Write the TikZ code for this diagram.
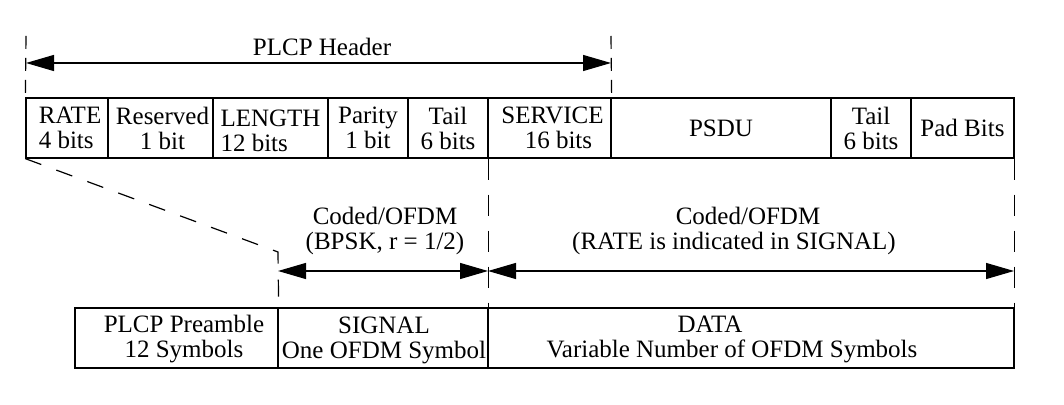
\documentclass[tikz,border=0pt]{standalone}
\usepackage{fontspec}
\setmainfont{Liberation Serif}
\usetikzlibrary{arrows.meta,fit}
\tikzset{
	field/.style={draw,line width=0.65pt,inner sep=0pt},
	guide/.style={line width=0.6pt,dash pattern=on 10.5pt off 7.5pt},
	tick/.style={line width=0.6pt,dash pattern=on 6.5pt off 4.5pt},
	span/.style={line width=0.6pt,{Triangle[length=14pt,width=8pt]}-{Triangle[length=14pt,width=8pt]}},
	caption/.style={align=center,inner sep=0pt,font=\fontsize{12.5}{12.5}\selectfont}
}
\begin{document}
\begin{tikzpicture}[x=0.5pt,y=-0.5pt]
			\useasboundingbox (0,0) rectangle (1064,405);
			% 上段の枠の描画
			\node[field,fit={(26,98) (108,158)}] (rate) {};
			\node[field,fit={(108,98) (213,158)}] (reserved) {};
			\node[field,fit={(213,98) (328,158)}] (length) {};
			\node[field,fit={(328,98) (408,158)}] (parity) {};
			\node[field,fit={(408,98) (488,158)}] (tail) {};
			\node[field,fit={(488,98) (611,158)}] (service) {};
			\node[field,fit={(611,98) (831,158)}] (psdu) {};
			\node[field,fit={(831,98) (911,158)}] (tailb) {};
			\node[field,fit={(911,98) (1014,158)}] (pad) {};
			% 上段の文字
			\node[caption,align=left] (rate_text) at ([xshift=1.5pt]rate.center) {RATE\\4 bits};
			\node[caption] (reserved_text) at ([xshift=1pt]reserved.center) {Reserved\\1 bit};
			\node[caption,align=left] (length_text) at ([yshift=-1.5pt]length.center) {LENGTH\\12 bits};
			\node[caption] (parity_text) at (parity.center) {Parity\\1 bit};
			\node[caption] (tail_text) at (tail.center) {Tail\\6 bits};
			\node[caption] (service_text) at ([xshift=1.5pt]service.center) {SERVICE\\\hspace*{6pt}16 bits};
			\node[caption] (psdu_text) at (psdu.center) {PSDU};
			\node[caption] (tailb_text) at (tailb.center) {Tail\\6 bits};
			\node[caption] (pad_text) at (pad.center) {Pad Bits};
			% 下段の枠の描画
			\node[field,fit={(75,308) (278,368)}] (preamble) {};
			\node[field,fit={(278,308) (488,368)}] (signal) {};
			\node[field,fit={(488,308) (1014,368)}] (data) {};
			\node[caption] (preamble_text) at (184,339) {PLCP Preamble\\12 Symbols};
			\node[caption] (signal_text) at ([xshift=0.5pt,yshift=-1pt]signal.center) {SIGNAL\\One OFDM Symbol};
			\node[caption] (data_text) at (732,339) {DATA\hspace*{22pt}\\Variable Number of OFDM Symbols};
			% 点の定義
			\coordinate (hl_top) at (26,36);
			\coordinate (hl_mid) at (26,63);
			\coordinate (hr_top) at (611,36);
			\coordinate (hr_mid) at (611,63);
			\coordinate (diag_end) at (278,252);
			\coordinate (sig_mid) at (278,271);
			\coordinate (svc_mid) at (488,271);
			\coordinate (pad_mid) at (1014,271);
			% ヘッダの描画
			\node[caption] (header) at (322,47) {PLCP Header};
			\draw[tick] (hl_top)--(rate.north west);
			\draw[tick] (hr_top)--(service.north east);
			\draw[span] (hl_mid)--(hr_mid);
			% 破線の描画
			\draw[guide,dash pattern=on 8.5pt off 8pt] (rate.south west)--(diag_end)--(preamble.north east);
			\draw[guide] (tail.south east)--(signal.north east);
			\draw[guide] (pad.south east)--(data.north east);
			% 矢印の描画
			\draw[span] (sig_mid)--(svc_mid);
			\draw[span] (svc_mid)--(pad_mid);
			\node[caption] (signal_coding) at (385,231) {Coded/OFDM\\(BPSK, r = 1/2)};
			\node[caption] (data_coding) at (734,231) {\hspace*{14pt}Coded/OFDM\\(RATE is indicated in SIGNAL)};
\end{tikzpicture}
\end{document}
